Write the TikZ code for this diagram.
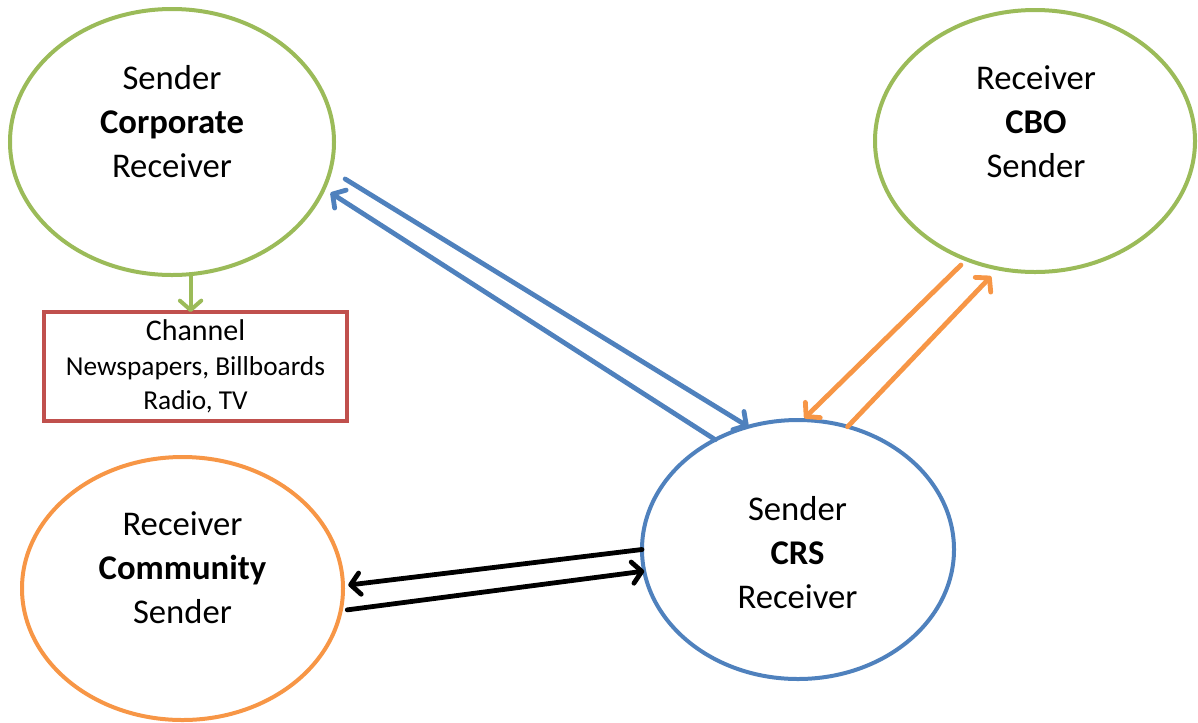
\documentclass[tikz,border=0pt]{standalone}
\usepackage{fontspec}
\setmainfont{Carlito}
\usetikzlibrary{shapes.geometric,arrows.meta}
\definecolor{cgreen}{HTML}{9BBB59}
\definecolor{corange}{HTML}{F79646}
\definecolor{cblue}{HTML}{4F81BD}
\definecolor{cred}{HTML}{C0504D}
\begin{document}
\begin{tikzpicture}[x=0.75pt,y=-0.75pt,
  ell/.style={ellipse,draw,line width=3pt,outer sep=0pt,inner sep=0pt},
  lbl/.style={align=center,font=\fontsize{26}{33}\selectfont,inner sep=0pt},
  conn/.style={line width=3.6pt,line cap=round,
    -{Straight Barb[length=7pt,width=16pt,line cap=round,line join=round]}},
]
\useasboundingbox (0,0) rectangle (1198,722);
% ellipses
\node[ell,draw=cgreen,minimum width=243pt,minimum height=199.5pt] (corp) at (172,142) {};
\node[ell,draw=cgreen,minimum width=240pt,minimum height=196.5pt] (cbo) at (1035,141) {};
\node[ell,draw=cblue,minimum width=234pt,minimum height=194.25pt] (crs) at (798,549.5) {};
\node[ell,draw=corange,minimum width=240.75pt,minimum height=197.25pt] (comm) at (182.5,588.5) {};
% texts
\node[lbl] (corpt) at (172,122) {Sender\\\textbf{Corporate}\\Receiver};
\node[lbl] (cbot) at (1036,122) {Receiver\\\textbf{CBO}\\Sender};
\node[lbl] (crst) at (797.5,553) {Sender\\\textbf{CRS}\\Receiver};
\node[lbl] (commt) at (182.5,568) {Receiver\\\textbf{Community}\\Sender};
% channel box
\node[draw=cred,line width=3pt,outer sep=0pt,inner sep=0pt,
  minimum width=227.25pt,minimum height=81.75pt,align=center,
  font=\fontsize{20.5}{26}\selectfont] (box) at (195.5,366.5)
  {{\fontsize{22.5}{26}\selectfont Channel}\\Newspapers, Billboards\\Radio, TV};
% connectors
\draw[conn,draw=cgreen,line width=3pt] (corp.-82.3) -- (corp.-82.3 |- box.north);
\draw[conn,draw=cblue,shorten <=13pt] (corp.-10.7) -- (crs.112.3);
\draw[conn,draw=cblue,shorten >=6pt] (crs.127.1) -- (corp.-17.7);
\draw[conn,draw=corange,shorten <=6pt,shorten >=2pt] (cbo.240.95) -- (crs.88.3);
\draw[conn,draw=corange,shorten >=8pt] (crs.68.8) -- (cbo.254.6);
\draw[conn,draw=black,shorten >=4pt] (crs.180.5) -- (comm.1.9);
\draw[conn,draw=black,shorten <=5pt] (comm.-8.1) -- (crs.188.6);
\end{tikzpicture}
\end{document}
